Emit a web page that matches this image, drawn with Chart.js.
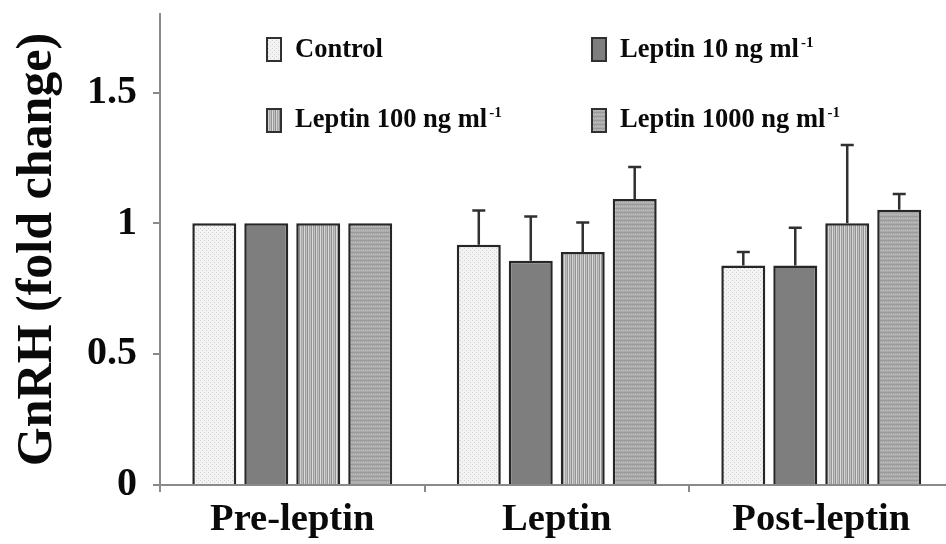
<!DOCTYPE html>
<html>
<head>
<meta charset="utf-8">
<script src="https://cdn.jsdelivr.net/npm/chart.js@4"></script>
<style>
  html, body { margin: 0; padding: 0; background: #fff; overflow: hidden; }
  #wrap { width: 960px; height: 544px; }
</style>
</head>
<body>
<div id="wrap"><canvas id="c" width="960" height="544"></canvas></div>
<script>
// GnRH release (fold change) before, during and after leptin exposure
const categories = ['Pre-leptin', 'Leptin', 'Post-leptin'];
const seriesNames = ['Control', 'Leptin 10 ng ml', 'Leptin 100 ng ml', 'Leptin 1000 ng ml'];
const seriesSuperscripts = ['', '-1', '-1', '-1'];

const controlValues   = [1.0, 0.918, 0.839];
const leptin10Values  = [1.0, 0.857, 0.839];
const leptin100Values = [1.0, 0.890, 1.000];
const leptin1000Values = [1.0, 1.093, 1.052];

// upper error (SEM) for each bar
const controlErrors    = [0, 0.131, 0.051];
const leptin10Errors   = [0, 0.169, 0.144];
const leptin100Errors  = [0, 0.113, 0.299];
const leptin1000Errors = [0, 0.122, 0.060];

const yTicks = [0, 0.5, 1, 1.5];

const SERIF = "'Liberation Serif', 'Times New Roman', serif";

// fill textures for the four groups
function makePattern(kind) {
  const t = document.createElement('canvas');
  const g = t.getContext('2d');
  if (kind === 'dots') {
    t.width = 4; t.height = 4;
    g.fillStyle = '#f3f3f3'; g.fillRect(0, 0, 4, 4);
    g.fillStyle = '#cfcfcf';
    g.fillRect(0, 0, 1, 1); g.fillRect(2, 2, 1, 1);
  } else if (kind === 'solid') {
    t.width = 2; t.height = 2;
    g.fillStyle = '#7e7e7e'; g.fillRect(0, 0, 2, 2);
  } else if (kind === 'vstripes') {
    const cols = ['#dcdcdc', '#9a9a9a', '#c4c4c4', '#8e8e8e', '#d4d4d4', '#a8a8a8', '#bdbdbd', '#959595'];
    t.width = cols.length; t.height = 2;
    cols.forEach((c, i) => { g.fillStyle = c; g.fillRect(i, 0, 1, 2); });
  } else {
    t.width = 4; t.height = 4;
    g.fillStyle = '#ababab'; g.fillRect(0, 0, 4, 4);
    g.fillStyle = '#9a9a9a';
    g.fillRect(0, 0, 4, 1);
    g.fillStyle = '#c0c0c0';
    g.fillRect(1, 2, 1, 1); g.fillRect(3, 2, 1, 1);
  }
  return g.createPattern(t, 'repeat');
}

const fills = [makePattern('dots'), makePattern('solid'), makePattern('vstripes'), makePattern('grain')];
const seriesValues = [controlValues, leptin10Values, leptin100Values, leptin1000Values];
const seriesErrors = [controlErrors, leptin10Errors, leptin100Errors, leptin1000Errors];

const datasets = seriesValues.map((vals, i) => ({
  label: seriesNames[i] + (seriesSuperscripts[i] ? '\u207B\u00B9' : ''),
  data: vals,
  errors: seriesErrors[i],
  backgroundColor: fills[i],
  borderColor: '#262626',
  borderWidth: 2.5,
  barPercentage: 0.846,
  categoryPercentage: 0.786
}));

// upper error bars with caps
const errorBars = {
  id: 'errorBars',
  afterDatasetsDraw(chart) {
    const ctx = chart.ctx;
    const y = chart.scales.y;
    ctx.save();
    ctx.strokeStyle = '#303030';
    ctx.lineWidth = 2.5;
    chart.data.datasets.forEach((ds, di) => {
      const meta = chart.getDatasetMeta(di);
      meta.data.forEach((bar, i) => {
        const err = ds.errors[i];
        if (!err) return;
        const top = y.getPixelForValue(ds.data[i] + err);
        const x = bar.x;
        ctx.beginPath();
        ctx.moveTo(x, bar.y);
        ctx.lineTo(x, top);
        ctx.moveTo(x - 6.5, top);
        ctx.lineTo(x + 6.5, top);
        ctx.stroke();
      });
    });
    ctx.restore();
  }
};

// two-column legend with superscript units
const gridLegend = {
  id: 'gridLegend',
  afterDraw(chart) {
    const ctx = chart.ctx;
    const boxX = [267, 592];
    const textX = [295, 620];
    const boxY = [38, 109];
    const baseY = [57, 127];
    ctx.save();
    chart.data.datasets.forEach((ds, i) => {
      const col = i % 2, row = Math.floor(i / 2);
      ctx.fillStyle = ds.backgroundColor;
      ctx.fillRect(boxX[col], boxY[row], 14, 23);
      ctx.strokeStyle = '#303030';
      ctx.lineWidth = 2;
      ctx.strokeRect(boxX[col], boxY[row], 14, 23);
      ctx.fillStyle = '#0a0a0a';
      ctx.textBaseline = 'alphabetic';
      ctx.textAlign = 'left';
      ctx.font = 'bold 26.5px ' + SERIF;
      ctx.fillText(seriesNames[i], textX[col], baseY[row]);
      if (seriesSuperscripts[i]) {
        const w = ctx.measureText(seriesNames[i]).width;
        ctx.font = 'bold 15px ' + SERIF;
        ctx.fillText(seriesSuperscripts[i], textX[col] + w + 2, baseY[row] - 10);
      }
    });
    ctx.restore();
  }
};

new Chart(document.getElementById('c'), {
  type: 'bar',
  data: { labels: categories, datasets },
  options: {
    responsive: false,
    animation: false,
    devicePixelRatio: 1,
    layout: { padding: { top: 14, right: 6.5, left: 0, bottom: 0 } },
    plugins: { legend: { display: false }, tooltip: { enabled: false } },
    scales: {
      x: {
        offset: true,
        grid: { offset: true, drawOnChartArea: false, drawTicks: true, tickLength: 7, color: '#8a8a8a', lineWidth: 2 },
        border: { display: true, color: '#8a8a8a', width: 2 },
        ticks: { color: '#0a0a0a', padding: 5, font: { family: SERIF, size: 38.6, weight: 'bold', lineHeight: 1.2 } },
        afterFit(scale) {
          scale.height = 59;
          scale.paddingLeft = 0; scale.paddingRight = 0;
        }
      },
      y: {
        min: 0,
        max: 1.8,
        afterBuildTicks(scale) { scale.ticks = yTicks.map(v => ({ value: v })); },
        grid: { drawOnChartArea: false, drawTicks: true, tickLength: 7, color: '#8a8a8a', lineWidth: 2 },
        border: { display: true, color: '#8a8a8a', width: 2 },
        ticks: {
          color: '#0a0a0a', padding: 16,
          font: { family: SERIF, size: 40, weight: 'bold' },
          callback: (v) => String(v)
        },
        title: {
          display: true,
          text: 'GnRH (fold change)',
          color: '#0a0a0a',
          padding: { top: 13, bottom: 0 },
          font: { family: SERIF, size: 50, weight: 'bold', lineHeight: 1 }
        },
        afterFit(scale) {
          scale.width = 160;
          scale.paddingTop = 0; scale.paddingBottom = 0;
        }
      }
    }
  },
  plugins: [errorBars, gridLegend]
});
</script>
</body>
</html>
